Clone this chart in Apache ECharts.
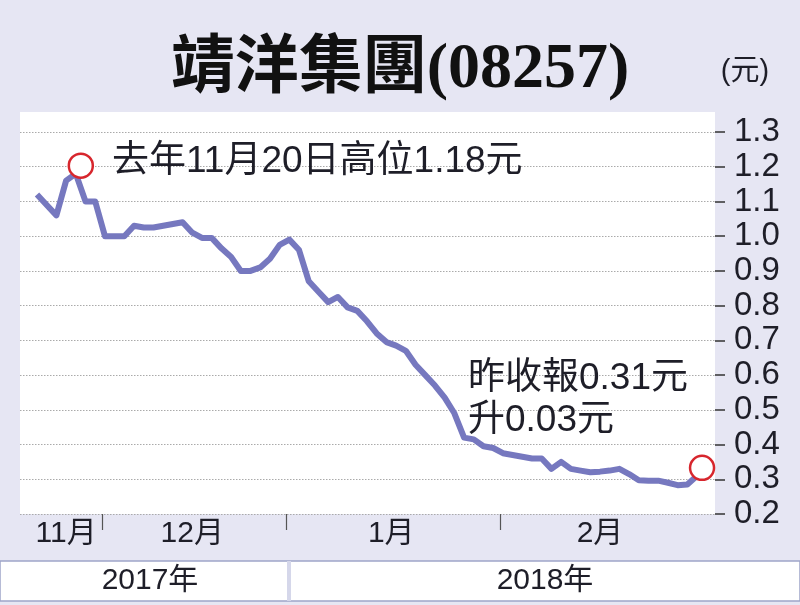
<!DOCTYPE html>
<html><head><meta charset="utf-8">
<script src="https://cdn.jsdelivr.net/npm/echarts@6/dist/echarts.min.js"></script>
<style>html,body{margin:0;padding:0;background:#e6e6f3;} #c{width:800px;height:605px;}</style>
</head><body><div id="c"></div>
<script>
const titleText = '靖洋集團(08257)';
const unitText = '(元)';
const months = ['11月', '12月', '1月', '2月'];
const monthCounts = [7, 19, 22, 21];
const years = ['2017年', '2018年'];
const prices = [
  1.12, 1.09, 1.06, 1.16, 1.18, 1.10, 1.10,
  1.00, 1.00, 1.00, 1.03, 1.025, 1.025, 1.03, 1.035, 1.04, 1.01, 0.995, 0.995, 0.965, 0.94, 0.90, 0.90, 0.91, 0.935, 0.975,
  0.99, 0.96, 0.87, 0.84, 0.81, 0.825, 0.795, 0.785, 0.755, 0.72, 0.695, 0.685, 0.67, 0.63, 0.60, 0.57, 0.535, 0.49, 0.42, 0.415, 0.395, 0.39,
  0.375, 0.37, 0.365, 0.36, 0.36, 0.33, 0.35, 0.33, 0.325, 0.32, 0.322, 0.325, 0.33, 0.315, 0.297, 0.296, 0.296, 0.29, 0.283, 0.285, 0.31
];
const highlightIdx = [4, 68];
const noteHigh = '去年11月20日高位1.18元';
const noteClose1 = '昨收報0.31元';
const noteClose2 = '升0.03元';
const yMin = 0.2, yMax = 1.3, yStep = 0.1;

const starts = [];
let acc = 0;
monthCounts.forEach(c => { starts.push(acc); acc += c; });
const centers = starts.map((s, i) => s + (monthCounts[i] - 1) / 2);
const bounds = starts.slice(1).map(s => s - 0.3);

const red = '#d7262d';
const lineColor = '#7678bf';
const sansFont = '"Liberation Sans", "Noto Sans CJK TC", sans-serif';

const seriesData = prices.map((v, i) => {
  if (highlightIdx.includes(i)) {
    return {
      value: [i, v], symbol: 'circle', symbolSize: 24, symbolOffset: [5, -8],
      itemStyle: { color: '#fff', borderColor: red, borderWidth: 2.5 }
    };
  }
  return [i, v];
});

const chart = echarts.init(document.getElementById('c'), null, { renderer: 'canvas' });
chart.setOption({
  backgroundColor: '#e6e6f3',
  animation: false,
  grid: { left: 20, right: 85, top: 132, bottom: 91, show: true, backgroundColor: '#fff', borderWidth: 0 },
  xAxis: {
    type: 'value', min: -1.75, max: prices.length - 1 + 1.85,
    axisLine: { show: false, onZero: false },
    splitLine: { show: false },
    axisTick: { show: true, customValues: bounds, length: 16, lineStyle: { color: '#555', width: 1.2 } },
    axisLabel: {
      customValues: centers, margin: 5, fontSize: 30, color: '#1e1e28', fontFamily: sansFont,
      formatter: v => { const k = centers.findIndex(c => Math.abs(c - v) < 1e-6); return k >= 0 ? months[k] : ''; }
    }
  },
  yAxis: {
    type: 'value', position: 'right', min: yMin, max: yMax, interval: yStep,
    axisLine: { show: false, onZero: false },
    axisTick: { show: true, length: 10, lineStyle: { color: '#333', width: 1.5 } },
    axisLabel: { margin: 19, fontSize: 33, color: '#1e1e28', fontFamily: sansFont, formatter: v => v.toFixed(1) },
    splitLine: { show: true, lineStyle: { color: '#aaa', type: [1.5, 1.5], width: 1 } }
  },
  series: [{
    type: 'line', data: seriesData, symbol: 'none', z: 3,
    lineStyle: { color: lineColor, width: 6, join: 'round' }
  }],
  graphic: [
    { type: 'rect', shape: { x: 20, y: 112, width: 695, height: 20 }, style: { fill: '#fff' }, silent: true },
    { type: 'text', x: 400, y: 70, style: { text: titleText, fontSize: 64, fontWeight: 'bold', fontFamily: '"Liberation Serif", "Noto Sans CJK TC", serif', fill: '#111', align: 'center', verticalAlign: 'middle' } },
    { type: 'text', x: 745, y: 72, style: { text: unitText, fontSize: 29, fontFamily: sansFont, fill: '#1e1e28', align: 'center', verticalAlign: 'middle' } },
    { type: 'text', x: 112, y: 162, z: 10, style: { text: noteHigh, fontSize: 37, fontFamily: sansFont, fill: '#1e1e28', align: 'left', verticalAlign: 'middle' } },
    { type: 'text', x: 468, y: 379, z: 10, style: { text: noteClose1, fontSize: 37, fontFamily: sansFont, fill: '#1e1e28', align: 'left', verticalAlign: 'middle' } },
    { type: 'text', x: 468, y: 421, z: 10, style: { text: noteClose2, fontSize: 37, fontFamily: sansFont, fill: '#1e1e28', align: 'left', verticalAlign: 'middle' } },
    { type: 'rect', shape: { x: 0, y: 561, width: 800, height: 40 }, style: { fill: '#fff', stroke: '#9ea5c9', lineWidth: 1.5 }, silent: true },
    { type: 'rect', shape: { x: 287, y: 561, width: 4, height: 40 }, style: { fill: '#d5d7ea' }, silent: true },
    { type: 'text', x: 150, y: 581, style: { text: years[0], fontSize: 30, fontFamily: sansFont, fill: '#1e1e28', align: 'center', verticalAlign: 'middle' } },
    { type: 'text', x: 545, y: 581, style: { text: years[1], fontSize: 30, fontFamily: sansFont, fill: '#1e1e28', align: 'center', verticalAlign: 'middle' } }
  ]
});
</script></body></html>
